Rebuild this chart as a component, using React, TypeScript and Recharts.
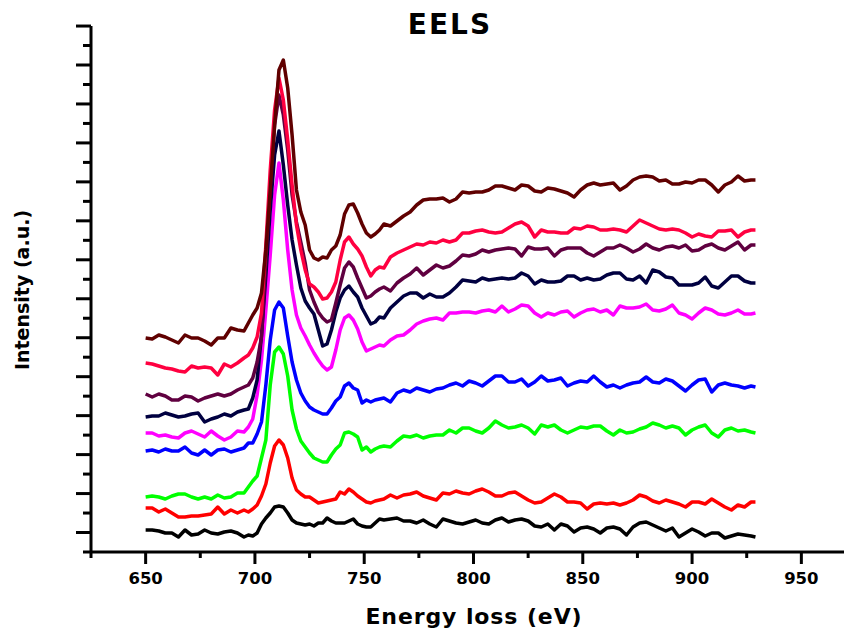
import React from 'react';
import { LineChart, Line, XAxis, YAxis } from 'recharts';

// energy loss (eV), finer around the L3/L2 edges
const ENERGY = [
  650, 653, 656, 659, 662, 665, 668, 671, 674, 677, 680, 683, 686, 689, 692, 695,
  697, 699, 701, 703, 705, 707, 709, 711, 713, 715, 717, 719, 721, 723, 725, 727,
  729, 731, 733, 735, 737, 739, 741, 743, 745, 747, 749, 751, 753, 755, 757, 759,
  762, 765, 768, 771, 774, 777, 780, 783, 786, 789,
  792, 795, 798, 801, 804, 807, 810, 813, 816, 819,
  822, 825, 828, 831, 834, 837, 840, 843, 846, 849,
  852, 855, 858, 861, 864, 867, 870, 873, 876, 879,
  882, 885, 888, 891, 894, 897, 900, 903, 906, 909,
  912, 915, 918, 921, 924, 927, 929,
];

// intensities (a.u.), stacked spectra from bottom to top
const BLACK = [
  22, 22, 21, 19, 19, 15, 22, 17, 18, 22, 19, 18, 20, 21, 19, 15,
  17, 16, 19, 28, 34, 39, 45, 46, 45, 39, 32, 29, 28, 27, 28, 26,
  29, 29, 34, 31, 29, 29, 29, 31, 33, 28, 26, 25, 25, 29, 33, 32,
  33, 34, 31, 31, 29, 32, 28, 25, 33, 31,
  29, 28, 30, 32, 29, 28, 32, 34, 30, 32,
  33, 31, 26, 25, 28, 22, 28, 26, 20, 24,
  25, 23, 19, 24, 25, 23, 17, 25, 29, 30,
  27, 24, 21, 24, 15, 19, 23, 20, 16, 19,
  19, 14, 16, 18, 17, 16, 15,
];
const RED = [
  44, 44, 40, 43, 39, 35, 35, 36, 36, 37, 38, 45, 38, 42, 39, 42,
  40, 43, 47, 56, 68, 89, 106, 112, 107, 94, 74, 62, 58, 55, 55, 52,
  49, 50, 51, 52, 53, 60, 58, 63, 60, 56, 53, 50, 49, 51, 52, 53,
  57, 54, 57, 58, 60, 56, 54, 52, 59, 58,
  61, 59, 58, 61, 63, 60, 56, 56, 59, 60,
  56, 52, 49, 50, 54, 58, 55, 50, 50, 49,
  43, 48, 49, 48, 49, 47, 49, 52, 57, 55,
  51, 49, 52, 50, 48, 45, 50, 50, 48, 53,
  49, 45, 42, 47, 45, 50, 50,
];
const GREEN = [
  55, 56, 55, 53, 56, 58, 58, 55, 53, 55, 53, 57, 54, 55, 59, 59,
  65, 71, 76, 94, 112, 167, 200, 205, 198, 176, 142, 123, 111, 105, 99, 94,
  92, 90, 90, 97, 103, 107, 119, 120, 118, 115, 102, 105, 100, 103, 105, 106,
  105, 111, 116, 115, 117, 114, 116, 117, 117, 122,
  119, 124, 124, 121, 119, 124, 131, 127, 124, 125,
  127, 124, 118, 127, 125, 127, 122, 119, 122, 125,
  124, 126, 126, 121, 117, 122, 119, 120, 123, 125,
  129, 127, 124, 126, 124, 117, 122, 125, 127, 119,
  115, 122, 124, 121, 122, 120, 119,
];
const BLUE = [
  101, 102, 100, 103, 101, 101, 105, 99, 97, 102, 97, 102, 103, 100, 102, 104,
  109, 109, 118, 130, 167, 212, 242, 250, 244, 216, 190, 172, 159, 151, 145, 142,
  140, 138, 138, 144, 151, 155, 166, 169, 164, 162, 149, 152, 150, 152, 153, 154,
  150, 159, 162, 160, 164, 162, 160, 163, 164, 167,
  169, 166, 171, 169, 166, 171, 176, 176, 170, 170,
  173, 166, 170, 176, 171, 172, 174, 166, 169, 171,
  170, 176, 170, 165, 167, 164, 167, 169, 170, 175,
  170, 169, 173, 171, 166, 161, 167, 172, 173, 160,
  167, 169, 167, 166, 164, 166, 165,
];
const MAGENTA = [
  119, 119, 116, 117, 115, 114, 119, 121, 118, 115, 121, 116, 112, 115, 121, 120,
  125, 133, 157, 192, 242, 297, 357, 389, 352, 302, 262, 237, 224, 216, 207, 199,
  192, 186, 182, 185, 202, 222, 234, 237, 232, 223, 210, 201, 203, 205, 207, 206,
  212, 216, 217, 222, 228, 231, 233, 234, 232, 239,
  239, 240, 240, 239, 241, 242, 240, 246, 240, 243,
  247, 246, 239, 235, 239, 237, 240, 241, 235, 239,
  242, 243, 240, 242, 237, 246, 244, 244, 245, 248,
  242, 241, 243, 247, 239, 237, 233, 239, 244, 242,
  238, 237, 239, 242, 238, 238, 239,
];
const NAVY = [
  135, 136, 136, 139, 137, 135, 136, 138, 139, 130, 133, 135, 138, 136, 140, 142,
  143, 154, 172, 217, 277, 342, 397, 421, 387, 347, 312, 287, 264, 251, 244, 238,
  222, 206, 208, 222, 240, 254, 262, 266, 260, 255, 244, 236, 228, 230, 235, 234,
  244, 250, 256, 259, 259, 254, 258, 255, 255, 259,
  265, 272, 271, 270, 274, 272, 273, 274, 273, 274,
  279, 276, 268, 272, 270, 270, 271, 276, 276, 272,
  274, 272, 273, 277, 279, 279, 273, 272, 276, 269,
  282, 280, 275, 274, 267, 267, 267, 269, 275, 266,
  264, 270, 276, 276, 271, 269, 269,
];
const PURPLE = [
  158, 155, 158, 156, 152, 152, 156, 155, 151, 154, 156, 158, 156, 158, 162, 165,
  167, 174, 190, 215, 292, 367, 427, 457, 437, 402, 357, 330, 310, 289, 262, 250,
  240, 234, 230, 232, 249, 267, 284, 290, 285, 274, 264, 254, 256, 260, 263, 265,
  261, 269, 274, 278, 284, 277, 282, 287, 284, 286,
  291, 297, 296, 298, 302, 300, 302, 303, 304, 303,
  296, 305, 303, 303, 304, 296, 302, 304, 304, 304,
  299, 296, 300, 304, 304, 307, 304, 300, 303, 308,
  304, 302, 305, 306, 304, 307, 301, 302, 306, 308,
  304, 302, 306, 310, 302, 307, 307,
];
const CRIMSON = [
  189, 188, 186, 184, 183, 181, 180, 186, 184, 185, 184, 177, 188, 185, 189, 194,
  197, 204, 215, 239, 307, 382, 442, 474, 452, 412, 367, 327, 302, 282, 268, 265,
  260, 253, 254, 260, 270, 292, 310, 315, 308, 303, 296, 285, 276, 282, 285, 284,
  295, 299, 302, 305, 308, 307, 310, 309, 312, 310,
  312, 319, 319, 321, 322, 320, 319, 320, 324, 328,
  330, 326, 315, 322, 320, 320, 319, 319, 324, 323,
  326, 325, 322, 322, 323, 322, 320, 326, 332, 329,
  326, 323, 322, 323, 322, 319, 315, 318, 316, 315,
  321, 321, 322, 315, 320, 322, 322,
];
const MAROON = [
  214, 213, 217, 215, 212, 209, 217, 214, 214, 211, 207, 214, 214, 224, 222, 221,
  229, 237, 244, 259, 302, 362, 427, 482, 492, 464, 417, 362, 340, 327, 302, 294,
  292, 295, 294, 302, 306, 317, 338, 347, 348, 339, 328, 319, 315, 318, 322, 328,
  326, 331, 336, 340, 347, 352, 353, 353, 354, 350,
  353, 360, 359, 360, 360, 362, 366, 366, 364, 362,
  367, 366, 361, 360, 364, 363, 361, 359, 355, 362,
  367, 369, 367, 368, 369, 362, 366, 372, 375, 376,
  375, 371, 372, 368, 368, 370, 369, 372, 372, 367,
  360, 367, 370, 376, 371, 372, 372,
];

const SERIES = [BLACK, RED, GREEN, BLUE, MAGENTA, NAVY, PURPLE, CRIMSON, MAROON];
const COLORS = ['#000000', '#ff0000', '#00ff00', '#0000ff', '#ff00ff', '#000040', '#600040', '#ff0040', '#600000'];

const X_TICKS = [625, 650, 675, 700, 725, 750, 775, 800, 825, 850, 875, 900, 925, 950, 975];
const X_LABELS = [650, 700, 750, 800, 850, 900, 950];
const Y_STEP = 19.48;
const Y_TICKS = Array.from({ length: 28 }, (_, i) => i * Y_STEP);

const rows = ENERGY.map((e, i) => {
  const row: Record<string, number> = { e };
  SERIES.forEach((s, k) => {
    row['s' + k] = s[i];
  });
  return row;
});

const FONT = 'DejaVu Sans';

const XTick = (props: any) => {
  const { x, y, payload } = props;
  const v = payload.value;
  const major = v % 50 === 0;
  return (
    <g>
      <line x1={x} y1={y} x2={x} y2={y + (major ? 12 : 6)} stroke="#000" strokeWidth={3} />
      {X_LABELS.includes(v) && (
        <text x={x} y={y + 31.5} textAnchor="middle" fontFamily={FONT} fontWeight="bold" fontSize={16.5} fill="#000">
          {v}
        </text>
      )}
    </g>
  );
};

const YTick = (props: any) => {
  const { x, y, payload } = props;
  const major = Math.round(payload.value / Y_STEP) % 2 === 1;
  return <line x1={x} y1={y} x2={x - (major ? 15 : 8)} y2={y} stroke="#000" strokeWidth={3} />;
};

export default function App() {
  return (
    <div style={{ position: 'relative', width: 844, height: 624, overflow: 'hidden' }}>
      <LineChart width={852} height={624} data={rows} margin={{ top: 18, right: 4, bottom: 50, left: 63 }}>
        <XAxis
          dataKey="e"
          type="number"
          domain={[625, 975]}
          ticks={X_TICKS}
          interval={0}
          height={30}
          tickSize={0}
          tickMargin={0}
          tickLine={false}
          tick={<XTick />}
          axisLine={{ stroke: '#000', strokeWidth: 3 }}
          label={{
            content: () => (
              <text x={466} y={616} textAnchor="middle" fontFamily={FONT} fontWeight="bold" fontSize={22} letterSpacing={0.9} fill="#000">
                Energy loss (eV)
              </text>
            ),
          }}
        />
        <YAxis
          type="number"
          domain={[0, 526]}
          ticks={Y_TICKS}
          interval={0}
          width={20}
          tickSize={0}
          tickMargin={0}
          tickLine={false}
          tick={<YTick />}
          axisLine={{ stroke: '#000', strokeWidth: 3 }}
          label={{
            content: () => (
              <text x={21} y={282} transform="rotate(-90 21 282)" textAnchor="middle" fontFamily={FONT} fontWeight="bold" fontSize={19} fill="#000">
                Intensity (a.u.)
              </text>
            ),
          }}
        />
        {SERIES.map((_, k) => (
          <Line
            key={k}
            dataKey={'s' + k}
            type="linear"
            stroke={COLORS[k]}
            strokeWidth={3.5}
            strokeLinejoin="round"
            dot={false}
            activeDot={false}
            isAnimationActive={false}
          />
        ))}
      </LineChart>
      <svg width={844} height={624} style={{ position: 'absolute', left: 0, top: 0, pointerEvents: 'none' }}>
        <text x={442} y={26} textAnchor="middle" fontFamily={FONT} fontWeight="bold" fontSize={28} letterSpacing={2} fill="#000">
          EELS
        </text>
      </svg>
    </div>
  );
}
